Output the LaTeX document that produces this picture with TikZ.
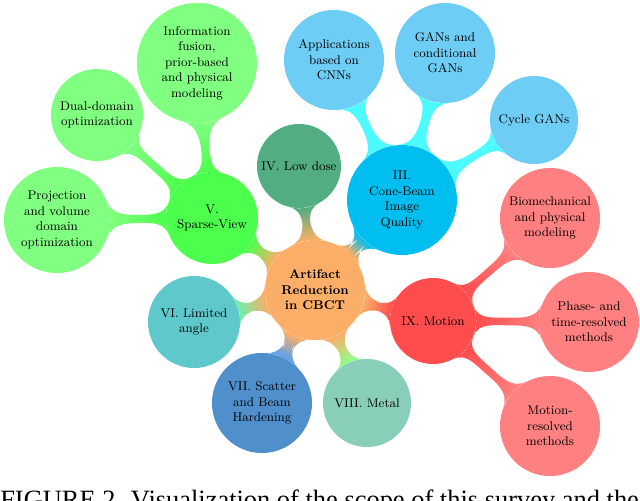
\documentclass[tikz,border=0pt]{standalone}
\usepackage{fontspec}
\newfontfamily\capfont{Liberation Serif}
\usetikzlibrary{mindmap,backgrounds}
\definecolor{rootc}{RGB}{251,174,104}
\definecolor{sparsec}{RGB}{77,255,77}
\definecolor{sparsekid}{RGB}{128,255,128}
\definecolor{lowc}{RGB}{82,173,128}
\definecolor{cbc}{RGB}{0,191,240}
\definecolor{cbkid}{RGB}{110,205,245}
\definecolor{cbbar}{RGB}{77,250,255}
\definecolor{motc}{RGB}{255,77,77}
\definecolor{motkid}{RGB}{255,128,128}
\definecolor{metc}{RGB}{136,206,184}
\definecolor{metbar}{RGB}{140,255,140}
\definecolor{scatc}{RGB}{79,143,204}
\definecolor{scatbar}{RGB}{90,160,240}
\definecolor{limc}{RGB}{94,200,203}
\definecolor{limbar}{RGB}{110,240,170}
\begin{document}
\begin{tikzpicture}[x=0.025cm,y=-0.025cm,
  bub/.style={circle,inner sep=0pt,align=center,font=\small,text=black,fill=#1},
  rad/.style={minimum size=#1*0.05cm},
  bar/.style args={#1/#2}{line width=3mm,circle connection bar switch color=from (#1) to (#2)}]
\useasboundingbox (0,0) rectangle (640,501);
% root
\node[bub=rootc,rad=50,font=\small\bfseries] (root) at (315,290) {Artifact\\Reduction\\in CBCT};
% level 1
\node[bub=sparsec,rad=46] (sv) at (212,218) {V.\\Sparse-View};
\node[bub=lowc,rad=42] (ld) at (299,166) {IV. Low dose};
\node[bub=cbc,rad=55] (cb) at (402,200) {III.\\Cone-Beam\\Image\\Quality};
\node[bub=motc,rad=43] (mo) at (433,321) {IX. Motion};
\node[bub=metc,rad=44] (me) at (367,403) {VIII. Metal};
\node[bub=scatc,rad=50] (sc) at (262,403) {VII. Scatter\\and Beam\\Hardening};
\node[bub=limc,rad=46] (la) at (194,322) {VI. Limited\\angle};
% level 2 sparse
\node[bub=sparsekid,rad=60] (inf) at (197,63) {Information\\fusion,\\prior-based\\and physical\\modeling};
\node[bub=sparsekid,rad=46] (dd) at (97,115) {Dual-domain\\optimization};
\node[bub=sparsekid,rad=53] (pv) at (57,220) {Projection\\and volume\\domain\\optimization};
% level 2 cone beam
\node[bub=cbkid,rad=50] (cnn) at (334,60) {Applications\\based on\\CNNs};
\node[bub=cbkid,rad=50] (gan) at (445,53) {GANs and\\conditional\\GANs};
\node[bub=cbkid,rad=44] (cyc) at (534,120) {Cycle GANs};
% level 2 motion
\node[bub=motkid,rad=50] (bio) at (550,218) {Biomechanical\\and physical\\modeling};
\node[bub=motkid,rad=50] (pha) at (589,322) {Phase- and\\time-resolved\\methods};
\node[bub=motkid,rad=50] (mrm) at (550,426) {Motion-\\resolved\\methods};
% caption (cut by the lower edge, as in the reference)
\node[anchor=base west,inner sep=0pt,font=\capfont\fontsize{18.8}{22}\selectfont] (cap) at (0,508) {FIGURE 2. Visualization of the scope of this survey and the};
\begin{scope}[on background layer]
\path (root) to[bar=rootc/sparsec] (sv);
\path (root) to[bar=rootc/lowc] (ld);
\path (root) to[bar=rootc/cbc] (cb);
\path (root) to[bar=rootc/motc] (mo);
\path (root) to[bar=rootc/metbar] (me);
\path (root) to[bar=rootc/scatbar] (sc);
\path (root) to[bar=rootc/limbar] (la);
\path (sv) to[bar=sparsec/sparsekid] (inf);
\path (sv) to[bar=sparsec/sparsekid] (dd);
\path (sv) to[bar=sparsec/sparsekid] (pv);
\path (cb) to[bar=cbbar/cbbar] (cnn);
\path (cb) to[bar=cbbar/cbbar] (gan);
\path (cb) to[bar=cbbar/cbbar] (cyc);
\path (mo) to[bar=motc/motkid] (bio);
\path (mo) to[bar=motc/motkid] (pha);
\path (mo) to[bar=motc/motkid] (mrm);
\end{scope}
\end{tikzpicture}
\end{document}
